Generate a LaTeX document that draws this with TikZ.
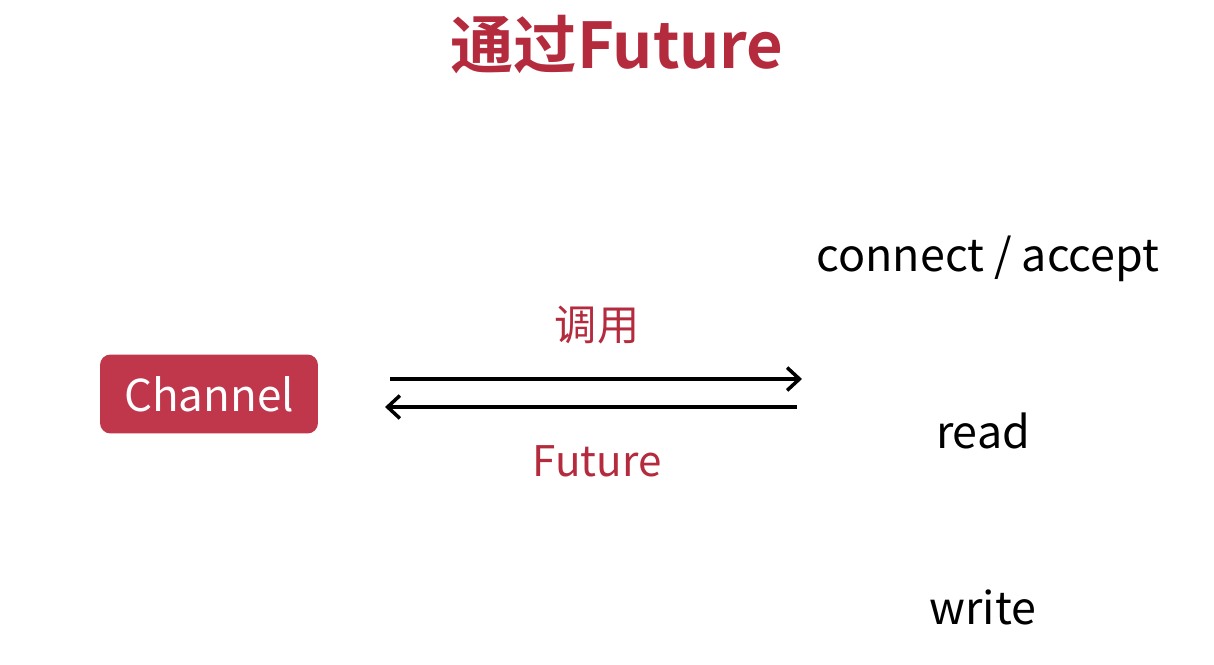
\documentclass[tikz,border=0pt]{standalone}
\usepackage{fontspec}
\usepackage{tikz}
\usepackage{xcolor}
\usetikzlibrary{arrows.meta,positioning}
\newfontfamily\cjk{Noto Sans CJK SC}
\newfontfamily\cjkbold{Noto Sans CJK SC Bold}
\definecolor{redbox}{HTML}{C0364A}
\definecolor{redtext}{HTML}{B52B3E}

\begin{document}
\begin{tikzpicture}[x=0.02cm,y=-0.02cm,>={Straight Barb[length=7pt,width=13pt,line width=2pt]},
 every node/.style={font=\cjk,inner sep=0pt},
 optext/.style={font=\cjk\fontsize{25.5}{28}\selectfont,text=black},
 label/.style={font=\cjk\fontsize{24}{27}\selectfont,text=redtext},
 flow/.style={->,line width=2.1pt,black}]
    \useasboundingbox (0,0) rectangle (1214,665);
    \node[font=\cjkbold\fontsize{36}{40}\selectfont,text=redtext] (title) at (617,45)
        {通过Future};
    \node[fill=redbox,rounded corners=6pt,text=white,font=\cjk\fontsize{25}{28}\selectfont,
          minimum width=4.36cm,minimum height=1.58cm] (channel) at (209,394) {Channel};
    % connectors
    \coordinate (callstart) at (390,379);
    \coordinate (callend) at (802,379);
    \coordinate (backstart) at (797,407);
    \coordinate (backend) at (385,407);
    \draw[flow] (callstart) -- (callend);
    \draw[flow] (backstart) -- (backend);
    \node[label] (call) at (597,325) {调用};
    \node[label] (future) at (597,461) {Future};
    % operations
    \node[optext] (connect) at (988,259) {connect / accept};
    \node[optext] (read) at (983,431) {read};
    \node[optext] (write) at (983,607) {write};
\end{tikzpicture}
\end{document}
